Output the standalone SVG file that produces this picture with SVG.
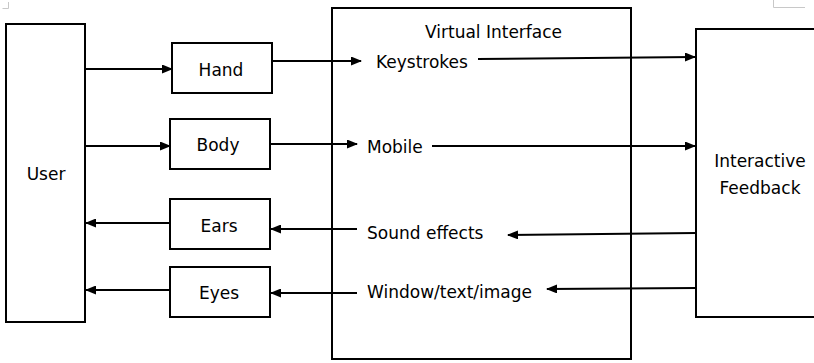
<svg xmlns="http://www.w3.org/2000/svg" width="814" height="363" viewBox="0 0 814 363">
<style>
.box{fill:#fff;stroke:#000;stroke-width:2}
.lbl{font-family:"DejaVu Sans",sans-serif;font-size:17px;fill:#000}
.c{text-anchor:middle}
.conn{stroke:#000;stroke-width:2;fill:none;marker-end:url(#ah)}
.crop{stroke:#c8c8c8;stroke-width:1;fill:none}
</style>
<defs>
<marker id="ah" markerUnits="userSpaceOnUse" markerWidth="11" markerHeight="9" refX="10" refY="4.5" orient="auto">
<path d="M0,0 L11,4.5 L0,9 z" fill="#000"/>
</marker>
</defs>
<rect width="814" height="363" fill="#fff"/>
<path class="crop" d="M2.5,8.5 H8.5 V2"/>
<path class="crop" d="M773.5,0 V7.5 H805"/>
<g id="virtual-interface">
<rect class="box" x="332" y="8" width="299" height="351"/>
<text class="lbl" x="425" y="38">Virtual Interface</text>
</g>
<g id="user">
<rect class="box" x="6" y="24" width="79" height="298"/>
<text class="lbl c" x="46" y="180">User</text>
</g>
<g id="hand">
<rect class="box" x="172" y="43" width="100" height="50"/>
<text class="lbl c" x="221" y="76">Hand</text>
</g>
<g id="body">
<rect class="box" x="170" y="119" width="100" height="50"/>
<text class="lbl c" x="218" y="151">Body</text>
</g>
<g id="ears">
<rect class="box" x="170" y="199" width="100" height="50"/>
<text class="lbl c" x="219" y="232">Ears</text>
</g>
<g id="eyes">
<rect class="box" x="170" y="267" width="100" height="50"/>
<text class="lbl c" x="219" y="299">Eyes</text>
</g>
<g id="keystrokes"><text class="lbl" x="376" y="68">Keystrokes</text></g>
<g id="mobile"><text class="lbl" x="367" y="153">Mobile</text></g>
<g id="sound-effects"><text class="lbl" x="367" y="239">Sound effects</text></g>
<g id="window-text-image"><text class="lbl" x="367" y="298">Window/text/image</text></g>
<g id="interactive-feedback">
<rect class="box" x="696" y="29" width="130" height="288"/>
<text class="lbl c" x="760" y="167">Interactive</text>
<text class="lbl c" x="760" y="194">Feedback</text>
</g>
<g id="connectors">
<line class="conn" x1="85" y1="69" x2="172" y2="69"/>
<line class="conn" x1="85" y1="146" x2="170" y2="146"/>
<line class="conn" x1="170" y1="223" x2="86" y2="223"/>
<line class="conn" x1="170" y1="290" x2="86" y2="290"/>
<line class="conn" x1="272" y1="61" x2="361" y2="61"/>
<line class="conn" x1="270" y1="144" x2="357" y2="144"/>
<line class="conn" x1="357" y1="229" x2="271" y2="229"/>
<line class="conn" x1="357" y1="293" x2="271" y2="293"/>
<line class="conn" x1="478" y1="59" x2="695" y2="57"/>
<line class="conn" x1="432" y1="146" x2="695" y2="146"/>
<line class="conn" x1="696" y1="233" x2="508" y2="235"/>
<line class="conn" x1="696" y1="288" x2="547" y2="289"/>
</g>
</svg>
